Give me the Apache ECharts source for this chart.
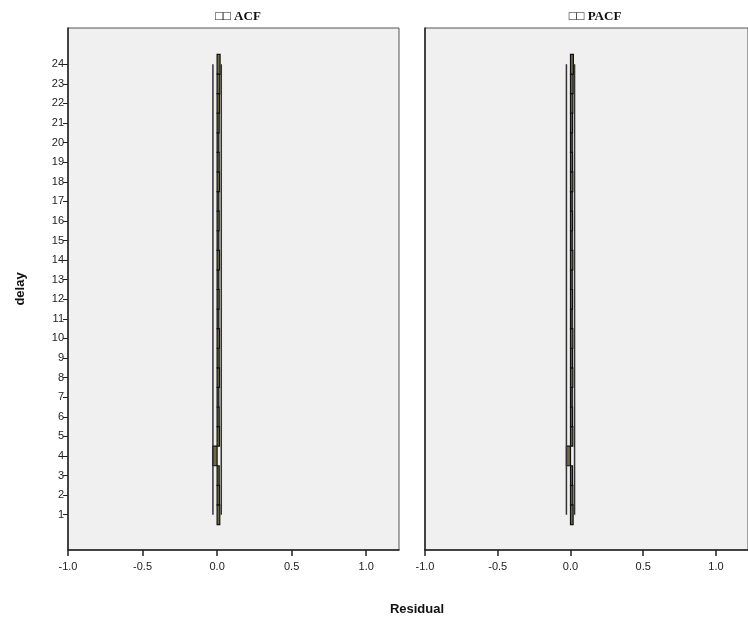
<!DOCTYPE html>
<html>
<head>
<meta charset="utf-8">
<script src="https://cdn.jsdelivr.net/npm/echarts@6/dist/echarts.min.js"></script>
<style>html,body{margin:0;padding:0;background:#fff}#c{width:748px;height:618px}</style>
</head>
<body>
<div id="c"></div>
<script>
// ---- data ----
const lags = [1,2,3,4,5,6,7,8,9,10,11,12,13,14,15,16,17,18,19,20,21,22,23,24];
const acf  = [0.018,0.016,0.014,-0.030,0.016,0.014,0.012,0.016,0.014,0.016,0.012,0.014,0.012,0.016,0.012,0.014,0.012,0.016,0.014,0.012,0.014,0.016,0.018,0.020];
const pacf = [0.018,0.016,0.014,-0.028,0.016,0.014,0.012,0.016,0.014,0.016,0.012,0.014,0.012,0.016,0.012,0.014,0.012,0.016,0.014,0.012,0.014,0.016,0.018,0.020];
const acfLimit = 0.028;
const pacfLimit = 0.028;
const xTicks = [-1.0,-0.5,0.0,0.5,1.0];
const panelTitles = ['\u25A1\u25A1 ACF', '\u25A1\u25A1 PACF'];

const chart = echarts.init(document.getElementById('c'));
const font = 'Liberation Sans, Arial, sans-serif';

function barSeries(vals, idx){
  return {
    type: 'custom', xAxisIndex: idx, yAxisIndex: idx,
    encode: {x: 0, y: 1},
    data: vals.map((v,i)=>[v, lags[i]]),
    renderItem: function(params, api){
      const v = api.value(0), lag = api.value(1);
      const p0 = api.coord([0, lag + 0.5]);
      const p1 = api.coord([v, lag - 0.5]);
      return {
        type: 'rect',
        shape: {x: Math.min(p0[0], p1[0]), y: p0[1], width: Math.abs(p1[0]-p0[0]), height: p1[1]-p0[1]},
        style: {fill: '#6e6c45', stroke: '#111', lineWidth: 1.2}
      };
    },
    z: 3
  };
}
function limitSeries(val, idx){
  return {
    type: 'line', xAxisIndex: idx, yAxisIndex: idx, symbol: 'none', silent: true,
    data: [[val, lags[0]], [val, lags[lags.length-1]]],
    lineStyle: {color: '#333', width: 1.5}, z: 4
  };
}

function xAxisCfg(idx){
  return {
    type: 'value', gridIndex: idx, min: -1, max: 1.22,
    axisLine: {show: true, onZero: false, lineStyle: {color: '#222', width: 1.5}},
    axisTick: {show: true, customValues: xTicks, length: 6, lineStyle: {color: '#222', width: 1.5}},
    axisLabel: {customValues: xTicks, formatter: v => v.toFixed(1), color: '#222', fontFamily: font, fontSize: 11, margin: 11},
    splitLine: {show: false}
  };
}
function yAxisCfg(idx){
  const show = idx === 0;
  return {
    type: 'value', gridIndex: idx, min: -0.8, max: 25.85,
    name: show ? 'delay' : '', nameLocation: 'middle', nameGap: 41, nameRotate: 90,
    nameTextStyle: {fontFamily: font, fontWeight: 'bold', fontSize: 13, color: '#111'},
    axisLine: {show: true, onZero: false, lineStyle: {color: '#222', width: 1.5}},
    axisTick: {show: show, customValues: lags, length: 5, lineStyle: {color: '#222', width: 1}},
    axisLabel: {show: show, customValues: lags, color: '#222', fontFamily: font, fontSize: 11, margin: 4},
    splitLine: {show: false}
  };
}

chart.setOption({
  animation: false,
  backgroundColor: '#fff',
  title: [
    {text: panelTitles[0], left: 233, top: 5, textAlign: 'center', textStyle: {fontFamily: 'Liberation Serif, serif', fontWeight: 'bold', fontSize: 13, color: '#111'}},
    {text: panelTitles[1], left: 590, top: 5, textAlign: 'center', textStyle: {fontFamily: 'Liberation Serif, serif', fontWeight: 'bold', fontSize: 13, color: '#111'}},
    {text: 'Residual', left: 412, top: 598, textAlign: 'center', textStyle: {fontFamily: font, fontWeight: 'bold', fontSize: 13, color: '#111'}}
  ],
  grid: [
    {left: 68, top: 28, width: 331, height: 522, show: true, backgroundColor: '#f0f0f0', borderColor: '#555', borderWidth: 1},
    {left: 425, top: 28, width: 331, height: 522, show: true, backgroundColor: '#f0f0f0', borderColor: '#555', borderWidth: 1}
  ],
  xAxis: [xAxisCfg(0), xAxisCfg(1)],
  yAxis: [yAxisCfg(0), yAxisCfg(1)],
  series: [
    barSeries(acf, 0), limitSeries(acfLimit, 0), limitSeries(-acfLimit, 0),
    barSeries(pacf, 1), limitSeries(pacfLimit, 1), limitSeries(-pacfLimit, 1)
  ]
});
</script>
</body>
</html>
